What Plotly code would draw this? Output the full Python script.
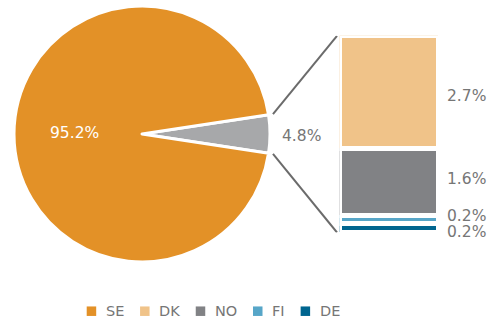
import math
import plotly.graph_objects as go

# ---- data ----
pie_labels = ["Other", "SE"]
pie_values = [4.8, 95.2]
bar_labels = ["DK", "NO", "FI", "DE"]
bar_values = [2.7, 1.6, 0.2, 0.2]
legend_labels = ["SE", "DK", "NO", "FI", "DE"]

colors = {
    "SE": "#E39127",
    "Other": "#A7A8AA",
    "DK": "#F0C389",
    "NO": "#818285",
    "FI": "#57A6C8",
    "DE": "#00658F",
}
TEXT = "#767676"
FONT = "DejaVu Sans, Verdana, sans-serif"
LABEL_SIZE = 15.5

W, H = 493, 321

# pie geometry (pixels)
cx, cy, r = 142, 134, 128
# bar geometry (pixels); LW is the white separator width
LW = 5
bar_left, bar_right = 339.5, 438.5
bar_top, bar_bottom = 35.8, 232.5


def px(x):
    return x / W


def py(y):
    return 1 - y / H


fig = go.Figure()

other_share = pie_values[0] / sum(pie_values)
half_angle = other_share * 360 / 2

fig.add_trace(go.Pie(
    labels=pie_labels,
    values=pie_values,
    sort=False,
    direction="clockwise",
    rotation=90 - half_angle,
    marker=dict(colors=[colors[l] for l in pie_labels],
                line=dict(color="white", width=3)),
    textinfo="none",
    hoverinfo="label+percent",
    showlegend=False,
    domain=dict(x=[px(cx - r), px(cx + r)], y=[py(cy + r), py(cy - r)]),
))

# stacked bar: bottom segment first
total = sum(bar_values)
for lab, val in reversed(list(zip(bar_labels, bar_values))):
    fig.add_trace(go.Bar(
        x=[0], y=[val], name=lab,
        marker=dict(color=colors[lab], line=dict(color="white", width=LW)),
        width=1, showlegend=False,
        hovertemplate=lab + ": %{y}%<extra></extra>",
    ))

annotations = []
shapes = []

# pie labels
annotations.append(dict(
    x=px(cx - 0.53 * r), y=py(cy - 1), xref="paper", yref="paper",
    xanchor="center", yanchor="middle",
    text=f"{pie_values[1]:.1f}%", showarrow=False,
    font=dict(family=FONT, size=LABEL_SIZE, color="white"),
))
annotations.append(dict(
    x=px(cx + r + 10), y=py(cy + 2), xref="paper", yref="paper",
    xanchor="left", yanchor="middle",
    text=f"{pie_values[0]:.1f}%", showarrow=False,
    font=dict(family=FONT, size=LABEL_SIZE, color=TEXT),
))

# bar labels at the centre of each segment
shifts = [-4, 3, 4, -4]
cum = total
for lab, val, sh in zip(bar_labels, bar_values, shifts):
    centre = cum - val / 2
    cum -= val
    annotations.append(dict(
        x=px(bar_right - LW / 2 + 9), y=centre, xref="paper", yref="y",
        xanchor="left", yanchor="middle", yshift=sh,
        text=f"{val:.1f}%", showarrow=False,
        font=dict(family=FONT, size=LABEL_SIZE, color=TEXT),
    ))

# connector lines from the slice edges to the bar corners
a = math.radians(half_angle)
ro = r * 1.035
for sign, yv in ((1, total), (-1, 0)):
    x0 = cx + ro * math.cos(a)
    y0 = cy - sign * ro * math.sin(a)
    shapes.append(dict(
        type="line", xref="paper", yref="y",
        x0=px(x0), y0=total * (bar_bottom - y0) / (bar_bottom - bar_top),
        x1=px(bar_left - 2.5), y1=yv,
        line=dict(color="#6B6B6B", width=2),
    ))

# legend drawn as squares + text
char_w = {"S": 0.635, "E": 0.632, "D": 0.770, "K": 0.656, "N": 0.748,
          "O": 0.787, "F": 0.575, "I": 0.295}
lsize = 14.5
lx, ly, sq = 86.7, 311.2, 9.5
for lab in legend_labels:
    shapes.append(dict(
        type="rect", xref="paper", yref="paper",
        x0=px(lx), x1=px(lx + sq), y0=py(ly + sq / 2), y1=py(ly - sq / 2),
        fillcolor=colors[lab], line=dict(width=0),
    ))
    annotations.append(dict(
        x=px(lx + 17), y=py(ly), xref="paper", yref="paper",
        xanchor="left", yanchor="middle", text=lab, showarrow=False,
        font=dict(family=FONT, size=lsize, color=TEXT),
    ))
    tw = sum(char_w.get(c, 0.7) for c in lab) * lsize
    lx += 17 + tw + 18

fig.update_layout(
    width=W, height=H,
    margin=dict(l=0, r=0, t=0, b=0),
    paper_bgcolor="white", plot_bgcolor="white",
    barmode="stack", bargap=0,
    showlegend=False,
    xaxis=dict(domain=[px(bar_left), px(bar_right)], range=[-0.5, 0.5],
               visible=False, fixedrange=True),
    yaxis=dict(domain=[py(bar_bottom), py(bar_top)], range=[0, total],
               visible=False, fixedrange=True),
    annotations=annotations,
    shapes=shapes,
)

fig.write_html("out.html")
